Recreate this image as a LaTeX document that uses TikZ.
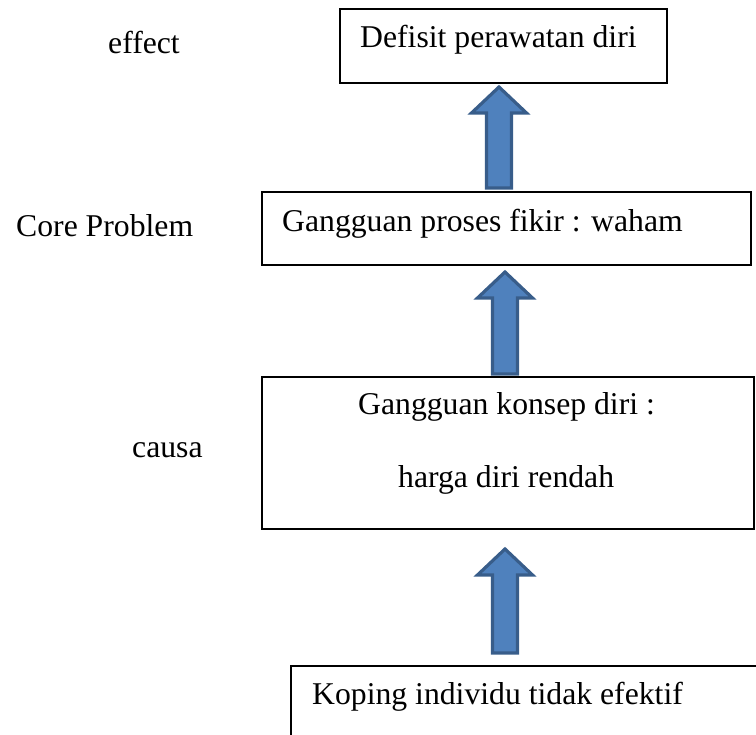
\documentclass[tikz,border=0pt]{standalone}
\usepackage{fontspec}
\setmainfont{Liberation Serif}
\usetikzlibrary{calc}
\begin{document}
\begin{tikzpicture}[x=1pt,y=-1pt,
  box/.style={draw=black,line width=1.6pt,inner sep=0pt,anchor=north west},
  label/.style={inner sep=0pt,anchor=base west,font=\fontsize{31.7}{38}\selectfont},
  blockarrow/.style={fill=blockfill,draw=blockline,line width=3.2pt,line join=miter}]
\definecolor{blockfill}{HTML}{4F81BD}
\definecolor{blockline}{HTML}{385D8A}
\useasboundingbox (0,0) rectangle (756,735);
\clip (0,0) rectangle (756,735);

% level boxes
\node[box,minimum width=327pt,minimum height=74pt] (eff) at (339,8) {};
\node[box,minimum width=489pt,minimum height=73pt] (core) at (261,191) {};
\node[box,minimum width=492pt,minimum height=152pt] (cau) at (261,376) {};
\node[box,minimum width=480pt,minimum height=90pt] (kop) at (290,665) {};

% box texts
\node[label] (teff) at (360,48) {Defisit perawatan diri};
\node[label] (tcore) at (282,232) {Gangguan proses fikir : waham};
\node[label] (tcau1) at (358,415) {Gangguan konsep diri :};
\node[label] (tcau2) at (398,488) {harga diri rendah};
\node[label] (tkop) at (312,704) {Koping individu tidak efektif};

% side labels
\node[label] (leff) at (108,54) {effect};
\node[label] (lcore) at (16,237) {Core Problem};
\node[label] (lcau) at (132,458) {causa};

% block arrow ends
\coordinate (a1s) at (499,188);
\coordinate (a1e) at (499,87);
\coordinate (a2s) at (505,374);
\coordinate (a2e) at (505,272);
\coordinate (a3s) at (505,653);
\coordinate (a3e) at (505,549);

\foreach \s/\e in {a1s/a1e,a2s/a2e,a3s/a3e}{
  \draw[blockarrow] let \p1=(\s), \p2=(\e) in
    (\x1-12.5pt,\y1) -- (\x1-12.5pt,\y2-26pt) -- (\x1-27.5pt,\y2-26pt) --
    (\x1,\y2) -- (\x1+27.5pt,\y2-26pt) -- (\x1+12.5pt,\y2-26pt) --
    (\x1+12.5pt,\y1) -- cycle;
}
\end{tikzpicture}
\end{document}
